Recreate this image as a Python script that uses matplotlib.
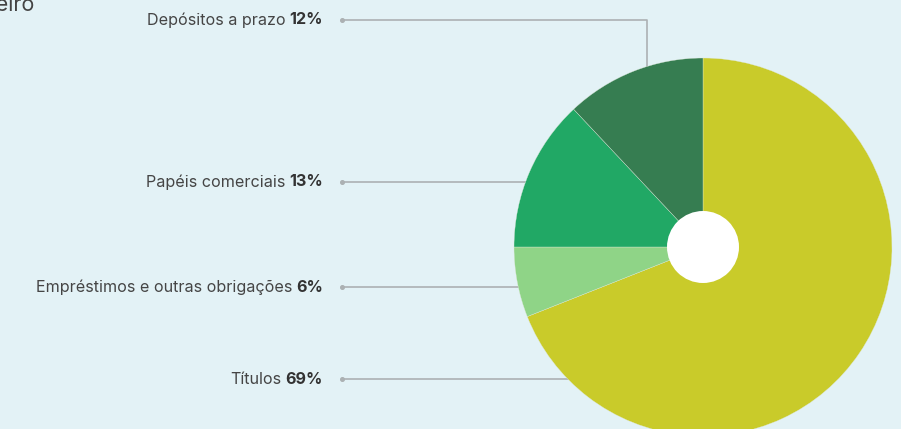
import matplotlib
matplotlib.use("Agg")
from matplotlib import pyplot as plt
from matplotlib.patches import Circle

# composition, clockwise from 12 o'clock
labels = ["Títulos", "Empréstimos e outras obrigações", "Papéis comerciais", "Depósitos a prazo"]
shares = [69, 6, 13, 12]
colors = ["#c9cb2a", "#8fd487", "#21a865", "#367d51"]

title = "Composição do portfólio financeiro"

W, H = 901, 429
BG = "#e3f2f6"
TXT = "#454545"
LINE = "#acb1b3"

plt.rcParams["font.family"] = ["Inter", "DejaVu Sans"]

fig = plt.figure(figsize=(W / 100, H / 100), dpi=100, facecolor=BG)
ax = fig.add_axes([0, 0, 1, 1])

cx, cy, r = 703, H - 247, 189

ax.pie(shares, colors=colors, startangle=90, counterclock=False,
       center=(cx, cy), radius=r, frame=True,
       wedgeprops=dict(linewidth=0.25, edgecolor="#dfe8d8", zorder=3))
ax.add_patch(Circle((cx, cy), 36, facecolor="white", edgecolor="none", zorder=4))
ax.set_xlim(0, W)
ax.set_ylim(0, H)
ax.set_aspect("equal")
ax.axis("off")

# label rows (pixel y from top) and leader routes
rows = {
    "Depósitos a prazo": (20, [(342, 20), (647, 20), (647, 80)]),
    "Papéis comerciais": (182, [(342, 182), (560, 182)]),
    "Empréstimos e outras obrigações": (287, [(342, 287), (560, 287)]),
    "Títulos": (379, [(342, 379), (600, 379)]),
}

for name, pct in zip(labels, shares):
    y, route = rows[name]
    yy = H - y
    bold = ax.text(323, yy, f"{pct}%", ha="right", va="center", fontsize=11.6,
                   fontweight="bold", color="#333333", zorder=5)
    ax.annotate(name, xy=(0, 0.5), xycoords=bold, xytext=(-3, 0),
                textcoords="offset points", ha="right", va="center",
                fontsize=11.6, color=TXT, zorder=5)
    xs = [p[0] for p in route]
    ys = [H - p[1] for p in route]
    ax.plot(xs, ys, color=LINE, lw=1.2, zorder=1, solid_capstyle="butt")
    ax.plot(xs[0], ys[0], "o", color=LINE, ms=2.6, zorder=1)

ax.text(34, H - 11, title, ha="right", va="baseline", fontsize=15.5, color="#444444")

fig.savefig("out.png", dpi=100, facecolor=BG)
